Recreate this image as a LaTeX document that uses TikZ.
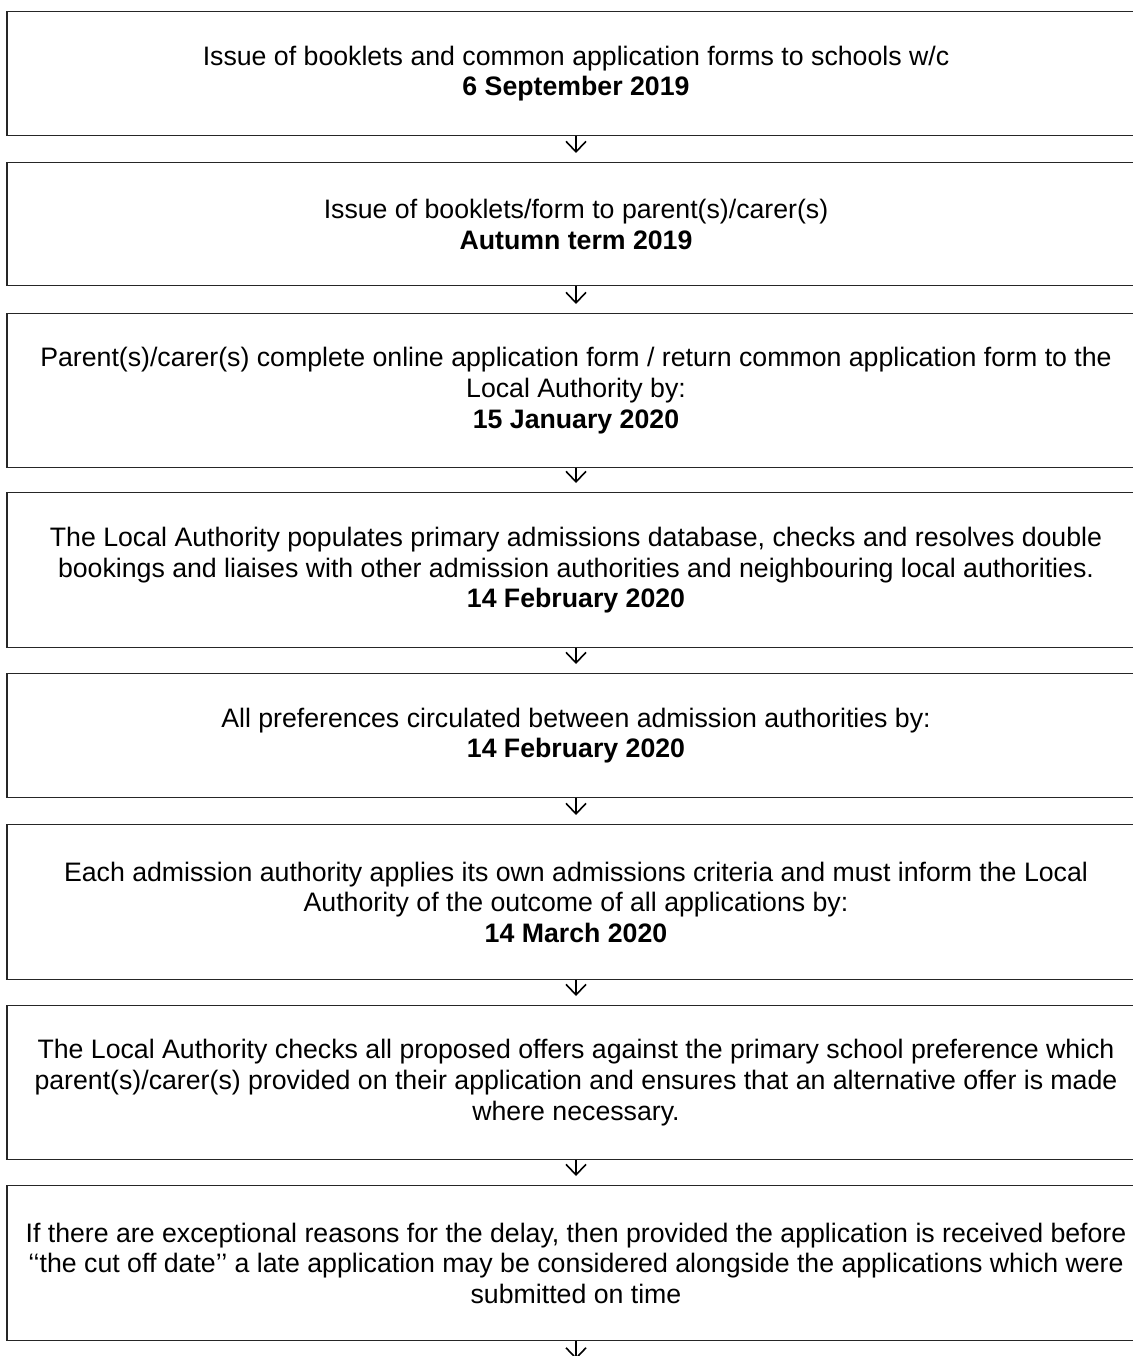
\documentclass[tikz,border=0pt]{standalone}
\usepackage{fontspec}
\setmainfont{Liberation Sans}
\usetikzlibrary{arrows.meta}
\begin{document}
\begin{tikzpicture}[x=1pt,y=-1pt,
  box/.style={draw=black!85, line width=1.4pt, minimum width=1138pt, inner sep=0pt, anchor=north,
    align=center, font=\fontsize{26.7}{30.7}\selectfont},
  arr/.style={line width=1.6pt, shorten >=9pt, -{Straight Barb[length=10.5pt,width=20pt,line width=1.6pt]}}]
\useasboundingbox (0,0) rectangle (1132,1356);
\fill[white] (0,0) rectangle (1132,1356);
\node[box, minimum height=124pt] (b1) at (576,11) {Issue of booklets and common application forms to schools w/c\\ \textbf{6 September 2019}};
\node[box, minimum height=123pt] (b2) at (576,162) {Issue of booklets/form to parent(s)/carer(s)\\ \textbf{Autumn term 2019}};
\node[box, minimum height=154pt] (b3) at (576,313) {Parent(s)/carer(s) complete online application form / return common application form to the\\ Local Authority by:\\ \textbf{15 January 2020}};
\node[box, minimum height=155pt] (b4) at (576,492) {The Local Authority populates primary admissions database, checks and resolves double\\ bookings and liaises with other admission authorities and neighbouring local authorities.\\ \textbf{14 February 2020}};
\node[box, minimum height=124pt] (b5) at (576,673) {All preferences circulated between admission authorities by:\\ \textbf{14 February 2020}};
\node[box, minimum height=155pt] (b6) at (576,824) {Each admission authority applies its own admissions criteria and must inform the Local\\ Authority of the outcome of all applications by:\\ \textbf{14 March 2020}};
\node[box, minimum height=154pt] (b7) at (576,1005) {The Local Authority checks all proposed offers against the primary school preference which\\ parent(s)/carer(s) provided on their application and ensures that an alternative offer is made\\ where necessary.};
\node[box, minimum height=155pt] (b8) at (576,1185) {If there are exceptional reasons for the delay, then provided the application is received before\\ ‘‘the cut off date’’ a late application may be considered alongside the applications which were\\ submitted on time};
\coordinate (end) at ([yshift=-27pt]b8.south);

\draw[arr] (b1.south) -- (b2.north);
\draw[arr] (b2.south) -- (b3.north);
\draw[arr] (b3.south) -- (b4.north);
\draw[arr] (b4.south) -- (b5.north);
\draw[arr] (b5.south) -- (b6.north);
\draw[arr] (b6.south) -- (b7.north);
\draw[arr] (b7.south) -- (b8.north);
\draw[arr] (b8.south) -- (end);
\end{tikzpicture}
\end{document}
